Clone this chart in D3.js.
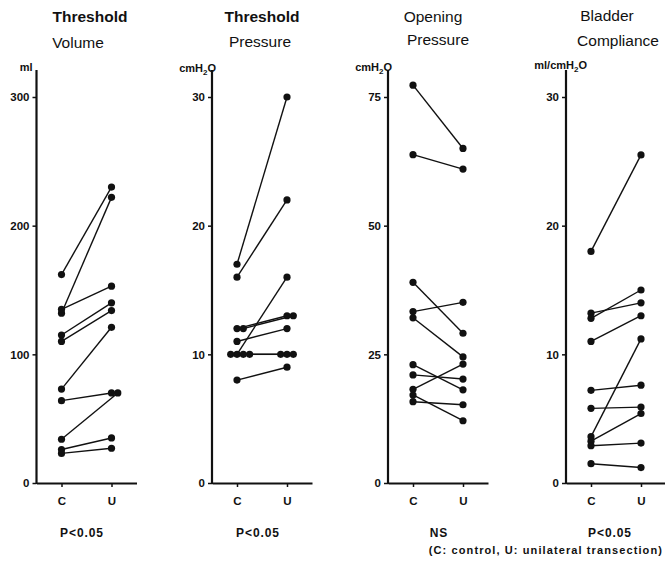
<!DOCTYPE html>
<html><head><meta charset="utf-8">
<script src="https://cdn.jsdelivr.net/npm/d3@7"></script>
<style>
body{margin:0;background:#fff}
svg{display:block}
text{font-family:"Liberation Sans",Arial,Helvetica,sans-serif;fill:#111}
</style>
</head><body><svg id="c" width="665" height="566"></svg>
<script>
// ---------- data ----------
const categories = ["C", "U"];
const titleLine1 = ["Threshold", "Threshold", "Opening", "Bladder"];
const titleLine2 = ["Volume", "Pressure", "Pressure", "Compliance"];
const unitLabels = ["ml", "cmH2O", "cmH2O", "ml/cmH2O"];
const yMax = [300, 30, 75, 30];
const yTicks = [[0, 100, 200, 300], [0, 10, 20, 30], [0, 25, 50, 75], [0, 10, 20, 30]];
const statLabels = ["P<0.05", "P<0.05", "NS", "P<0.05"];
const footnote = "(C: control, U: unilateral transection)";

const volumeC = [162, 132, 135, 115, 110, 73, 64, 34, 26, 23];
const volumeU = [230, 222, 153, 140, 134, 121, 70, 70, 35, 27];
const pressureC = [17, 16, 10, 12, 12, 11, 10, 10, 10, 8];
const pressureU = [30, 22, 16, 13, 13, 12, 10, 10, 10, 9];
const openingC = [77.3, 63.8, 39, 33.3, 32.1, 23, 21, 18.2, 17.1, 15.8];
const openingU = [65, 61, 29.1, 35.1, 24.5, 18.1, 20.2, 23.1, 12.1, 15.2];
const complianceC = [18, 13.2, 12.8, 11, 7.2, 5.8, 3.6, 3.25, 2.9, 1.5];
const complianceU = [25.5, 14, 15, 13, 7.6, 5.9, 11.2, 5.4, 3.1, 1.2];

const controlSeries = [volumeC, pressureC, openingC, complianceC];
const unilateralSeries = [volumeU, pressureU, openingU, complianceU];

// ---------- layout ----------
const axisX = [36.5, 212, 388, 566];
const yBottom = 483, yTop = 97, axisTop = 70, xLen = 100;
const title1Dx = [53.5, 50, 45, 41];
const title2Dx = [41.5, 48, 50, 52];
const title1Y = [22, 22, 21.5, 20.5];
const title2Y = [47.5, 47, 45, 46];
const unitDx = [-4, 4, 4, 21];
const unitY = [71, 72, 71, 69];
const statDx = [45.5, 46, 51, 44];
const dotR = 3.6, dupGap = 6.3;
const slotOrder = [0, 1, -1, 2, -2];

const svg = d3.select("#c");
svg.append("rect").attr("width", 665).attr("height", 566).attr("fill", "#fff");

function unitText(sel, label) {
  const parts = label.split("2");
  sel.append("tspan").text(parts[0]);
  if (parts.length > 1) {
    sel.append("tspan").attr("font-size", "8px").attr("dy", 3).text("2");
    sel.append("tspan").attr("dy", -3).text(parts[1]);
  }
}

function offsets(values) {
  const seen = new Map();
  return values.map(v => {
    const k = seen.get(v) || 0;
    seen.set(v, k + 1);
    return slotOrder[k] * dupGap;
  });
}

for (let p = 0; p < 4; p++) {
  const ax = axisX[p];
  const g = svg.append("g");
  const y = d3.scaleLinear().domain([0, yMax[p]]).range([yBottom, yTop]);
  const x = d3.scalePoint().domain(categories).range([ax, ax + xLen]).padding(0.5);

  // titles
  g.append("text").attr("x", ax + title1Dx[p]).attr("y", title1Y[p])
    .attr("text-anchor", "middle").attr("font-size", "15.5px")
    .attr("font-weight", p < 2 ? "bold" : "normal").text(titleLine1[p]);
  g.append("text").attr("x", ax + title2Dx[p]).attr("y", title2Y[p])
    .attr("text-anchor", "middle").attr("font-size", "15.5px").text(titleLine2[p]);

  // unit label
  const ut = g.append("text").attr("x", ax + unitDx[p]).attr("y", unitY[p])
    .attr("text-anchor", "end").attr("font-size", "11px").attr("font-weight", "bold");
  unitText(ut, unitLabels[p]);

  // y axis
  const yAxis = g.append("g").attr("transform", `translate(${ax},0)`)
    .call(d3.axisLeft(y).tickValues(yTicks[p]).tickSize(4).tickSizeOuter(0).tickPadding(3));
  yAxis.select(".domain").remove();
  yAxis.selectAll("line").attr("stroke", "#111").attr("stroke-width", 1.5);
  yAxis.selectAll("text").attr("font-size", "11.5px").attr("font-weight", "bold")
    .attr("font-family", "Liberation Sans, Arial, sans-serif").attr("fill", "#111");
  g.append("line").attr("x1", ax).attr("x2", ax).attr("y1", axisTop).attr("y2", yBottom + 1)
    .attr("stroke", "#111").attr("stroke-width", 2.2);

  // x axis
  const xAxis = g.append("g").attr("transform", `translate(0,${yBottom})`)
    .call(d3.axisBottom(x).tickSize(4).tickSizeOuter(0).tickPadding(10));
  xAxis.select(".domain").attr("stroke", "#111").attr("stroke-width", 1.8);
  xAxis.selectAll("line").attr("stroke", "#111").attr("stroke-width", 1.5);
  xAxis.selectAll("text").attr("font-size", "11.5px").attr("font-weight", "bold")
    .attr("font-family", "Liberation Sans, Arial, sans-serif").attr("fill", "#111");

  // data
  const cVals = controlSeries[p], uVals = unilateralSeries[p];
  const cOff = offsets(cVals), uOff = offsets(uVals);
  const subjects = cVals.map((c, i) => ({
    cx: x("C") + cOff[i], cy: y(c),
    ux: x("U") + uOff[i], uy: y(uVals[i])
  }));
  g.selectAll("line.pair").data(subjects).join("line").attr("class", "pair")
    .attr("x1", d => d.cx).attr("y1", d => d.cy)
    .attr("x2", d => d.ux).attr("y2", d => d.uy)
    .attr("stroke", "#111").attr("stroke-width", 1.4);
  g.selectAll("circle.c").data(subjects).join("circle").attr("class", "c")
    .attr("cx", d => d.cx).attr("cy", d => d.cy).attr("r", dotR).attr("fill", "#111");
  g.selectAll("circle.u").data(subjects).join("circle").attr("class", "u")
    .attr("cx", d => d.ux).attr("cy", d => d.uy).attr("r", dotR).attr("fill", "#111");

  // stat label
  g.append("text").attr("x", ax + statDx[p]).attr("y", 536.5)
    .attr("text-anchor", "middle").attr("font-size", "12px").attr("font-weight", "bold")
    .attr("letter-spacing", "0.9px").text(statLabels[p]);
}

svg.append("text").attr("x", 663).attr("y", 554).attr("text-anchor", "end")
  .attr("font-size", "11px").attr("font-weight", "bold").attr("letter-spacing", "1.1px")
  .text(footnote);
</script>
</body></html>
